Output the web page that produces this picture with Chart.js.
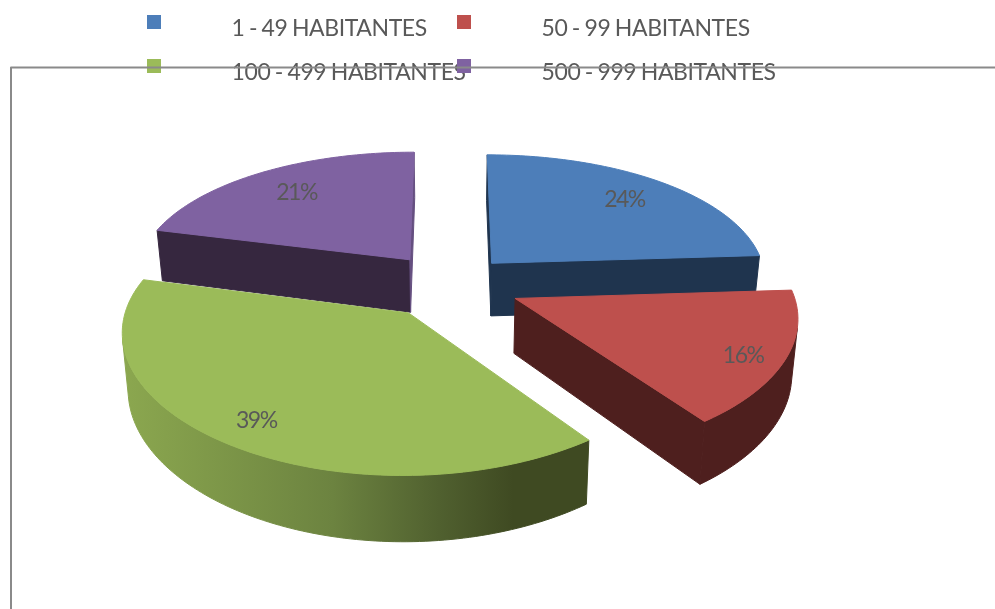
<!DOCTYPE html>
<html><head><meta charset="utf-8">
<style>html,body{margin:0;padding:0;background:#fff}canvas{display:block}</style>
<script src="https://cdn.jsdelivr.net/npm/chart.js@4"></script>
</head><body>
<canvas id="c" width="995" height="609"></canvas>
<script>
const categories = ['1 - 49 HABITANTES','50 - 99 HABITANTES','100 - 499 HABITANTES','500 - 999 HABITANTES'];
const shares = [24,16,39,21];
const topColors = ['#4D7EB9','#BE504D','#9BBB59','#7F62A1'];
const sideColors = ['#1F344E','#4E1F1E','#6C8340','#36273F'];
const endFaceColors = ['#1F344E','#4E1F1E','#3F4A22','#654F80'];
const explode = [62,71,72,67];
const labelReach = [0.78,0.85,0.85,0.75];
const labelDrop = [1,6,-1,0];
const greenStops = [[0,'#8BA74F'],[0.45,'#6C8340'],[0.68,'#50602F'],[0.84,'#3F4A22'],[1,'#3F4A22']];

const tilt=0.47, perspY=0.145, perspX=0.12, depth=54, shrink=0.018;
const TEXT='#595959', FONT='Lato, Carlito, "Open Sans", sans-serif';

const pie3d={
  id:'pie3d',
  beforeDatasetDraw(chart){
    const ctx=chart.ctx, arcs=chart.getDatasetMeta(0).data;
    const proj=(a,X,Y,z)=>{
      const y=Y/a.outerRadius, wx=1/(1-perspX*y), wy=1/(1-perspY*y);
      return [a.x+X*wx*(1-shrink*z), a.y+Y*tilt*wy+z*depth*Math.pow(wx,1.3)];
    };
    const order=arcs.map((a,i)=>i).sort((i,j)=>{
      const m=k=>Math.sin((arcs[k].startAngle+arcs[k].endAngle)/2);
      return m(i)-m(j);
    });
    const poly=(pts,fill)=>{
      ctx.beginPath();pts.forEach((p,i)=>i?ctx.lineTo(p[0],p[1]):ctx.moveTo(p[0],p[1]));ctx.closePath();
      ctx.fillStyle=fill;ctx.strokeStyle=fill;ctx.lineWidth=1;ctx.lineJoin='round';ctx.fill();ctx.stroke();
    };
    const area=p=>{let s=0;p.forEach((q,i)=>{const r=p[(i+1)%p.length];s+=q[0]*r[1]-r[0]*q[1];});return s;};
    const greenGrad=ctx.createLinearGradient(125,0,587,0);
    greenStops.forEach(s=>greenGrad.addColorStop(s[0],s[1]));
    for(const i of order){
      const a=arcs[i], R=a.outerRadius, off=a.options.offset, mid=(a.startAngle+a.endAngle)/2;
      const ox=Math.cos(mid)*off, oy=Math.sin(mid)*off;
      const steps=Math.ceil((a.endAngle-a.startAngle)/0.02);
      const rim=[];
      for(let s=0;s<=steps;s++){
        const t=a.startAngle+(a.endAngle-a.startAngle)*s/steps;
        rim.push([ox+R*Math.cos(t),oy+R*Math.sin(t)]);
      }
      const side=i===2?greenGrad:sideColors[i];
      const P=(q,z)=>proj(a,q[0],q[1],z), C=[ox,oy];
      const last=rim[rim.length-1];
      let run=[];
      const flush=()=>{
        if(run.length){
          const tops=run.map(q=>P(q,0)), bots=run.map(q=>P(q,1)).reverse();
          poly(tops.concat(bots),side);
        }
        run=[];
      };
      for(let s=0;s<steps;s++){
        const q=[P(rim[s+1],0),P(rim[s],0),P(rim[s],1),P(rim[s+1],1)];
        if(area(q)>0){ if(!run.length) run.push(rim[s]); run.push(rim[s+1]); }
        else flush();
      }
      flush();
      const f1=[P(rim[0],0),P(C,0),P(C,1),P(rim[0],1)];
      if(area(f1)>0) poly(f1,sideColors[i]);
      const f2=[P(C,0),P(last,0),P(last,1),P(C,1)];
      if(area(f2)>0) poly(f2,endFaceColors[i]);
      poly([P(C,0)].concat(rim.map(q=>P(q,0))),topColors[i]);
    }
    ctx.font='23px '+FONT;ctx.fillStyle=TEXT;ctx.textAlign='center';ctx.textBaseline='middle';
    ctx.letterSpacing='-1.5px';
    arcs.forEach((a,i)=>{
      const mid=(a.startAngle+a.endAngle)/2, off=a.options.offset, r=a.outerRadius*labelReach[i];
      const p=proj(a,Math.cos(mid)*(off+r),Math.sin(mid)*(off+r),0);
      ctx.fillText(shares[i]+'%',p[0],p[1]+labelDrop[i]);
    });
    ctx.letterSpacing='0px';
    return false;
  },
  afterDraw(chart){
    const ctx=chart.ctx;
    const cols=[147,457], rows=[15,59];
    ctx.textAlign='left';ctx.textBaseline='alphabetic';
    ctx.font='23px '+FONT;ctx.letterSpacing='-0.4px';ctx.wordSpacing='-1px';
    categories.forEach((c,i)=>{
      const x=cols[i%2], y=rows[Math.floor(i/2)];
      ctx.fillStyle=topColors[i];ctx.fillRect(x,y,14,14);
      ctx.fillStyle=TEXT;ctx.fillText(c,x+84.5,y+21);
    });
    ctx.letterSpacing='0px';ctx.wordSpacing='0px';
    ctx.strokeStyle='#8A8A8A';ctx.lineWidth=2;
    ctx.beginPath();ctx.moveTo(11,609);ctx.lineTo(11,67.5);ctx.lineTo(995,67.5);ctx.stroke();
  }
};

new Chart(document.getElementById('c'),{
  type:'pie',
  data:{labels:categories,datasets:[{data:shares,backgroundColor:topColors,offset:explode,borderWidth:0,radius:276}]},
  options:{responsive:false,animation:false,
    layout:{padding:{right:95,bottom:41}},
    plugins:{legend:{display:false},tooltip:{enabled:false}}},
  plugins:[pie3d]
});
</script>
</body></html>
